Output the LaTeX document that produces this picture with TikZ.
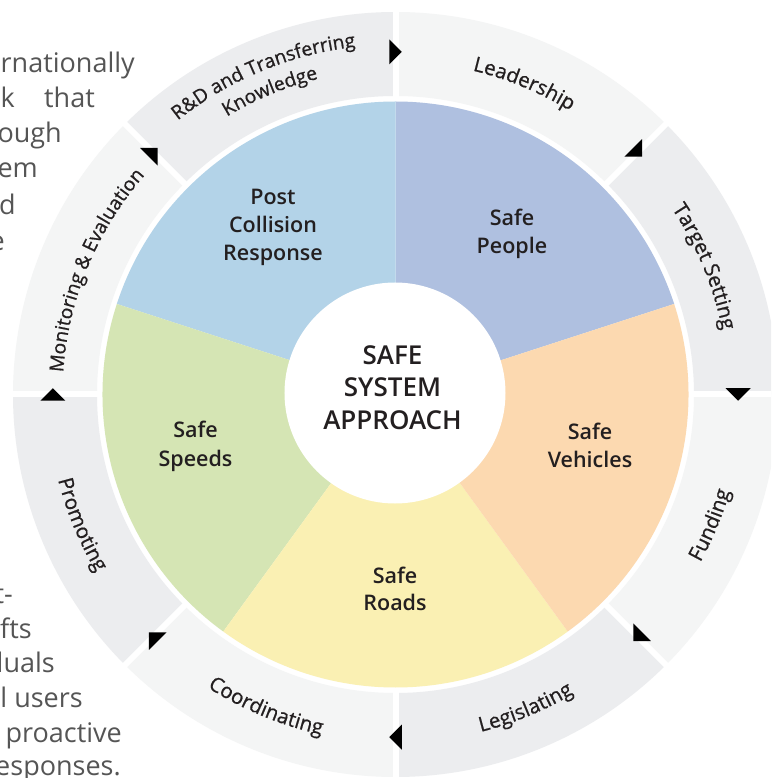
\documentclass[tikz,border=0pt]{standalone}
\usepackage{fontspec}
\setmainfont{Open Sans}
\IfFontExistsTF{Open Sans SemiBold}{\newfontfamily\semib{Open Sans SemiBold}}{%
  \IfFontExistsTF{Open Sans Semibold}{\newfontfamily\semib{Open Sans Semibold}}{%
    \newfontfamily\semib{Open Sans}[FakeBold=1.2]}}
\newfontfamily\ringfam{Open Sans}[FakeBold=0.8]
\usetikzlibrary{decorations.text}
\definecolor{cpeople}{HTML}{AFC0E0}
\definecolor{cveh}{HTML}{FCD9B0}
\definecolor{croads}{HTML}{FAF0B3}
\definecolor{cspeed}{HTML}{D5E5B4}
\definecolor{cpost}{HTML}{B3D3E8}
\definecolor{ringA}{HTML}{ECEDEF}
\definecolor{ringB}{HTML}{F4F5F5}
\definecolor{txt}{HTML}{231F20}
\definecolor{bgtxt}{HTML}{555555}
\newcommand\ringfont{\ringfam\fontsize{19.3}{19}\selectfont}
\newcommand\ringfontb{\ringfam\fontsize{20.5}{20}\selectfont}
\newcommand\secfont{\semib\fontsize{21.5}{28}\selectfont}
\newcommand\ctrfont{\semib\fontsize{26}{32}\selectfont}
\newcommand\bgfont{\fontsize{27}{34}\selectfont}
\tikzset{
  seclabel/.style={font=\secfont, text=txt, anchor=base, inner sep=0pt},
  ctrlabel/.style={font=\ctrfont, text=txt, anchor=base, inner sep=0pt},
  bgline/.style={font=\bgfont, text=bgtxt, anchor=base east, inner sep=0pt},
  tri/.style={fill=black},
  sepline/.style={draw=white, line width=6pt},
  ringtext/.style={decorate, decoration={text along path, text align=center, text color=txt}},
}
\begin{document}
\begin{tikzpicture}[x=1pt,y=1pt]
\useasboundingbox (-395.5,-383.5) rectangle (375.5,394.5);
\clip (-395.5,-383.5) rectangle (375.5,394.5);
\fill[white] (-395.5,-383.5) rectangle (375.5,394.5);

% background text fragments
\node[bgline] (bg1) at (-260.5,321.5) {rnationally};
\node[bgline] (bg2a) at (-380.5,286.5) {k};
\node[bgline] (bg2b) at (-300.5,286.5) {that};
\node[bgline] (bg3) at (-333.5,251.5) {ough};
\node[bgline] (bg4) at (-357.5,216.5) {em};
\node[bgline] (bg5) at (-379.5,179.5) {d};
\node[bgline] (bg6) at (-390.5,143.5) {e};
\node[bgline] (bg7) at (-382.5,-208.5) {t-};
\node[bgline] (bg8) at (-363.5,-243.5) {fts};
\node[bgline] (bg9) at (-340.5,-277.5) {duals};
\node[bgline] (bg10) at (-312.5,-312.5) {l users};
\node[bgline] (bg11) at (-273.5,-347.5) {proactive};
\node[bgline] (bg12) at (-274.5,-380.5) {esponses.};

% outer ring segments
\foreach \a/\c in {0/ringA,45/ringB,90/ringA,135/ringB,180/ringA,225/ringB,270/ringA,315/ringB}{
  \fill[\c] (\a:298.5) arc[start angle=\a, end angle=\a+45, radius=298.5]
     -- (\a+45:382.5) arc[start angle=\a+45, end angle=\a, radius=382.5] -- cycle;
}
\foreach \a in {0,45,...,315}{
  \draw[sepline] (\a:290) -- (\a:392);
}

% pie sectors
\fill[cpeople] (0,0) -- (18:293) arc[start angle=18, end angle=90, radius=293] -- cycle;
\fill[cpost] (0,0) -- (90:293) arc[start angle=90, end angle=162, radius=293] -- cycle;
\fill[cspeed] (0,0) -- (162:293) arc[start angle=162, end angle=234, radius=293] -- cycle;
\fill[croads] (0,0) -- (234:293) arc[start angle=234, end angle=306, radius=293] -- cycle;
\fill[cveh] (0,0) -- (306:293) arc[start angle=306, end angle=378, radius=293] -- cycle;

% centre disc
\fill[white] (-0.5,1.5) circle[radius=110.5];

% arrow triangles
\foreach \a in {0,45,...,315}{
  \fill[tri, rotate=\a, shift={(342.5,0)}] (12.5,6.25) -- (-12.5,6.25) -- (0,-6.25) -- cycle;
}

% ring labels
\path[ringtext, decoration={text={|\ringfontb|Leadership}}]
  (110:333) arc[start angle=110, end angle=25, radius=333];
\path[ringtext, decoration={text={|\ringfontb|Target Setting}}]
  (65:333) arc[start angle=65, end angle=-20, radius=333];
\path[ringtext, decoration={text={|\ringfontb|Funding}}]
  (-65:348) arc[start angle=-65, end angle=20, radius=348];
\path[ringtext, decoration={text={|\ringfontb|Legislating}}]
  (-110:348) arc[start angle=-110, end angle=-25, radius=348];
\path[ringtext, decoration={text={|\ringfontb|Coordinating}}]
  (-155:348) arc[start angle=-155, end angle=-70, radius=348];
\path[ringtext, decoration={text={|\ringfontb|Promoting}}]
  (-200:348) arc[start angle=-200, end angle=-115, radius=348];
\path[ringtext, decoration={text={|\ringfont|Monitoring {\&} Evaluation}}]
  (205:333) arc[start angle=205, end angle=110, radius=333];
\path[ringtext, decoration={text={|\ringfont|R{\&}D and Transferring}}]
  (160:350) arc[start angle=160, end angle=65, radius=350];
\path[ringtext, decoration={text={|\ringfont|Knowledge}}]
  (155:325) arc[start angle=155, end angle=70, radius=325];

% sector labels
\node[seclabel] (p1) at (116.5,168.5) {Safe};
\node[seclabel] (p2) at (116.5,140.5) {People};
\node[seclabel] (c1) at (-122.5,189.5) {Post};
\node[seclabel] (c2) at (-122.5,161.5) {Collision};
\node[seclabel] (c3) at (-122.5,133.5) {Response};
\node[seclabel] (v1) at (194.5,-45.5) {Safe};
\node[seclabel] (v2) at (194.5,-73.5) {Vehicles};
\node[seclabel] (r1) at (-0.5,-188.5) {Safe};
\node[seclabel] (r2) at (-0.5,-215.5) {Roads};
\node[seclabel] (s1) at (-200,-43.5) {Safe};
\node[seclabel] (s2) at (-200,-71.5) {Speeds};

% centre label
\node[ctrlabel] (m1) at (-3,29.5) {SAFE};
\node[ctrlabel] (m2) at (-3,-2.5) {SYSTEM};
\node[ctrlabel] (m3) at (-3,-35.5) {APPROACH};
\end{tikzpicture}
\end{document}
